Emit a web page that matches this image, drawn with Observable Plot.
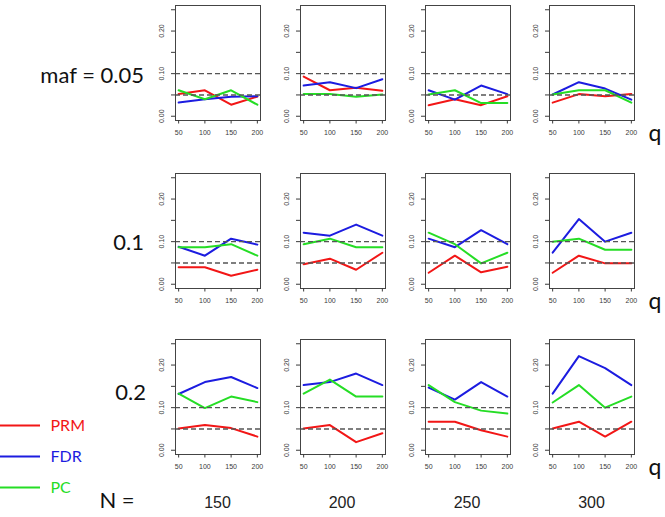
<!DOCTYPE html>
<html>
<head>
<meta charset="utf-8">
<script src="https://cdn.jsdelivr.net/npm/d3@7"></script>
<script src="https://cdn.jsdelivr.net/npm/@observablehq/plot@0.6"></script>
<style>
  body { margin: 0; background: #fff; }
  #chart { position: relative; width: 665px; height: 517px; overflow: hidden; background: #fff; }
  .lbl { position: absolute; white-space: nowrap; line-height: 1; color: #111; }
</style>
</head>
<body>
<div id="chart"></div>
<script>
// Simulation settings
const qValues = [50, 100, 150, 200];
const sampleSizes = [150, 200, 250, 300];
const mafLevels = ["maf = 0.05", "0.1", "0.2"];
const methods = ["PRM", "FDR", "PC"];
const methodColors = ["#f21616", "#1c1ce0", "#25dd25"];

// Error rates, indexed [maf][N][q]
const prm = [
  [[0.052, 0.061, 0.027, 0.046], [0.093, 0.061, 0.067, 0.060], [0.026, 0.040, 0.026, 0.047], [0.032, 0.052, 0.047, 0.052]],
  [[0.040, 0.040, 0.020, 0.034], [0.047, 0.060, 0.034, 0.074], [0.027, 0.067, 0.028, 0.041], [0.027, 0.067, 0.049, 0.049]],
  [[0.051, 0.059, 0.052, 0.032], [0.051, 0.059, 0.019, 0.040], [0.067, 0.067, 0.047, 0.032], [0.051, 0.067, 0.032, 0.067]]
];
const fdr = [
  [[0.032, 0.040, 0.046, 0.047], [0.072, 0.080, 0.066, 0.087], [0.061, 0.039, 0.072, 0.052], [0.051, 0.080, 0.065, 0.039]],
  [[0.088, 0.067, 0.107, 0.093], [0.121, 0.114, 0.140, 0.114], [0.107, 0.087, 0.127, 0.094], [0.074, 0.153, 0.100, 0.121]],
  [[0.132, 0.160, 0.172, 0.146], [0.153, 0.160, 0.180, 0.153], [0.147, 0.119, 0.160, 0.126], [0.133, 0.221, 0.193, 0.153]]
];
const pc = [
  [[0.061, 0.040, 0.061, 0.027], [0.052, 0.052, 0.046, 0.051], [0.051, 0.061, 0.031, 0.031], [0.051, 0.061, 0.061, 0.032]],
  [[0.087, 0.087, 0.094, 0.067], [0.094, 0.107, 0.087, 0.087], [0.121, 0.094, 0.049, 0.074], [0.100, 0.107, 0.081, 0.081]],
  [[0.133, 0.099, 0.126, 0.113], [0.133, 0.166, 0.126, 0.126], [0.153, 0.113, 0.093, 0.086], [0.112, 0.153, 0.100, 0.126]]
];

// Reference levels and axis ticks
const thresholds = [0.05, 0.10];
const yTicks = [0, 0.05, 0.10, 0.15, 0.20, 0.25];
const yTickLabels = ["0.00", "", "0.10", "", "0.20", ""];

const seriesByMethod = [prm, fdr, pc];

// Panel grid layout (plot-region corners)
const colLeft = [175, 299.5, 424.5, 549];
const rowTop = [5, 173, 339];
const frameW = 85, frameH = 115;
const M = {left: 30, right: 10, top: 5, bottom: 26};

const chart = document.getElementById("chart");

mafLevels.forEach((maf, r) => {
  sampleSizes.forEach((n, c) => {
    const rows = [];
    methods.forEach((m, k) => {
      qValues.forEach((q, i) => rows.push({method: m, q, rate: seriesByMethod[k][r][c][i]}));
    });
    const svg = Plot.plot({
      width: frameW + M.left + M.right,
      height: frameH + M.top + M.bottom,
      marginLeft: M.left, marginRight: M.right, marginTop: M.top, marginBottom: M.bottom,
      style: {fontFamily: "'Liberation Sans', Arial, sans-serif", fontSize: "7px", color: "#3a3a3a", background: "transparent", overflow: "visible"},
      x: {domain: [44, 206], label: null},
      y: {domain: [-0.01, 0.26], label: null},
      color: {domain: methods, range: methodColors},
      marks: [
        Plot.lineY(rows, {x: "q", y: "rate", stroke: "method", strokeWidth: 2}),
        Plot.ruleY(thresholds, {stroke: "#555", strokeWidth: 1.4, strokeDasharray: "5,3"}),
        Plot.frame({stroke: "#444", strokeWidth: 1}),
        Plot.axisX(qValues, {tickSize: 3.5, tickPadding: 6, label: null}),
        Plot.axisY(yTicks, {
          tickSize: 4, tickRotate: -90, tickPadding: 8, label: null,
          tickFormat: d => yTickLabels[yTicks.indexOf(d)]
        })
      ]
    });
    svg.style.position = "absolute";
    svg.style.left = (colLeft[c] - M.left) + "px";
    svg.style.top = (rowTop[r] - M.top) + "px";
    chart.appendChild(svg);
  });
});

// Text labels around the grid
function addLabel(text, x, y, opts = {}) {
  const d = document.createElement("div");
  d.className = "lbl";
  d.textContent = text;
  d.style.left = x + "px";
  d.style.top = y + "px";
  d.style.fontFamily = opts.font || "Lato, sans-serif";
  d.style.fontSize = (opts.size || 22) + "px";
  if (opts.color) d.style.color = opts.color;
  const ax = opts.anchor === "end" ? "-100%" : opts.anchor === "start" ? "0" : "-50%";
  d.style.transform = `translate(${ax}, -50%)`;
  chart.appendChild(d);
}

const rowLabelPos = [[144, 75], [144, 242], [146, 392]];
mafLevels.forEach((maf, r) => addLabel(maf, rowLabelPos[r][0], rowLabelPos[r][1], {anchor: "end", size: 22}));
rowTop.forEach(t => addLabel("q", 655, t + 127, {size: 23}));
addLabel("N =", 117, 500, {size: 22});
sampleSizes.forEach((n, c) => addLabel(String(n), colLeft[c] + frameW / 2, 503, {font: "'Liberation Sans', Arial, sans-serif", size: 16, color: "#222"}));

// Legend for the three methods
const legend = Plot.plot({
  width: 100, height: 90, margin: 0,
  style: {background: "transparent", overflow: "visible"},
  x: {type: "identity", axis: null},
  y: {type: "point", domain: methods, range: [10, 73], padding: 0, axis: null},
  color: {domain: methods, range: methodColors},
  marks: [
    Plot.ruleY(methods, {y: d => d, x1: 0, x2: 40, stroke: d => d, strokeWidth: 2}),
    Plot.text(methods, {y: d => d, x: 50, text: d => d, fill: d => d, textAnchor: "start", fontSize: 16, fontFamily: "Lato, sans-serif"})
  ]
});
legend.style.position = "absolute";
legend.style.left = "0px";
legend.style.top = "414px";
chart.appendChild(legend);
</script>
</body>
</html>
